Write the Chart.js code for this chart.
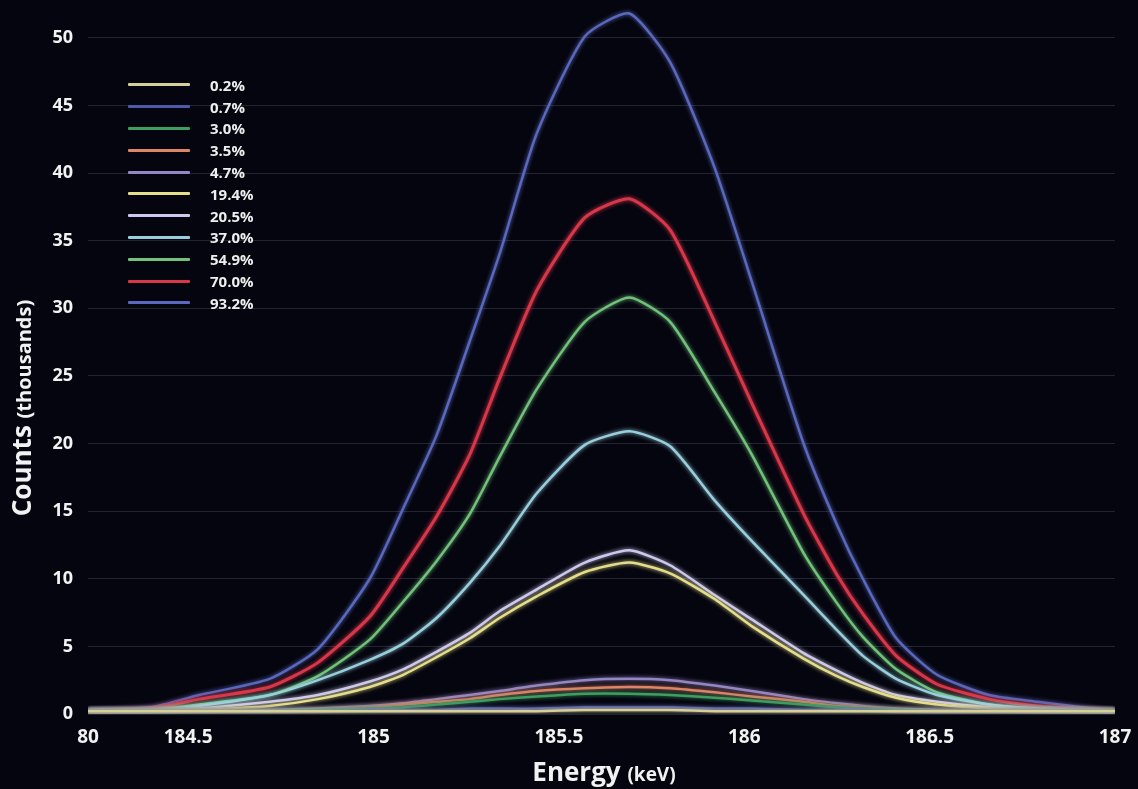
<!DOCTYPE html>
<html>
<head>
<meta charset="utf-8">
<script src="https://cdn.jsdelivr.net/npm/chart.js@4.4.0/dist/chart.umd.min.js"></script>
<style>
    html, body { margin: 0; padding: 0; background: #05050f; }
    #wrap { position: relative; width: 1138px; height: 789px; }
    #legend { position: absolute; left: 128px; top: 74px; font: 700 15px 'Open Sans', sans-serif; color: #eeeeee; }
    #legend .row { display: flex; align-items: center; height: 21.8px; }
    #legend .swatch { width: 62px; height: 3px; margin-right: 20px; border-radius: 1px; }
</style>
</head>
<body>
<div id="wrap">
    <canvas id="spectrum"></canvas>
    <div id="legend"></div>
</div>
<script>
// energy grid (keV), counts in thousands
const energy = [184.23, 184.40, 184.53, 184.72, 184.85, 184.99, 185.08, 185.17, 185.26, 185.34, 185.44, 185.57,
                185.69, 185.80, 185.92, 186.02, 186.16, 186.25, 186.32, 186.41, 186.52, 186.66, 186.79, 187.00];

const enr02 = [0.2, 0.2, 0.2, 0.2, 0.2, 0.2, 0.2, 0.2, 0.2, 0.2, 0.2, 0.3, 0.3, 0.3, 0.2, 0.2, 0.2, 0.2, 0.2, 0.2, 0.2, 0.2, 0.2, 0.2];
const enr07 = [0.2, 0.2, 0.2, 0.2, 0.2, 0.3, 0.3, 0.3, 0.4, 0.4, 0.4, 0.5, 0.5, 0.5, 0.4, 0.4, 0.3, 0.3, 0.3, 0.2, 0.2, 0.2, 0.2, 0.2];
const enr30 = [0.2, 0.2, 0.2, 0.2, 0.3, 0.4, 0.5, 0.7, 0.9, 1.1, 1.3, 1.5, 1.5, 1.4, 1.2, 1.0, 0.7, 0.5, 0.4, 0.3, 0.2, 0.2, 0.2, 0.2];
const enr35 = [0.2, 0.2, 0.2, 0.2, 0.3, 0.5, 0.7, 0.9, 1.1, 1.4, 1.7, 1.9, 2.0, 1.9, 1.6, 1.3, 0.9, 0.6, 0.5, 0.3, 0.2, 0.2, 0.2, 0.2];
const enr47 = [0.2, 0.2, 0.2, 0.3, 0.4, 0.6, 0.8, 1.1, 1.4, 1.7, 2.1, 2.5, 2.6, 2.5, 2.1, 1.7, 1.1, 0.8, 0.6, 0.4, 0.3, 0.2, 0.2, 0.2];
const enr194 = [0.2, 0.2, 0.3, 0.6, 1.1, 2.0, 2.9, 4.2, 5.6, 7.1, 8.7, 10.5, 11.2, 10.4, 8.5, 6.5, 4.1, 2.8, 2.0, 1.2, 0.7, 0.4, 0.2, 0.2];
const enr205 = [0.2, 0.2, 0.4, 0.9, 1.4, 2.4, 3.3, 4.6, 6.0, 7.6, 9.2, 11.2, 12.1, 11.0, 8.8, 7.0, 4.5, 3.2, 2.3, 1.4, 0.9, 0.5, 0.3, 0.2];
const enr370 = [0.2, 0.3, 0.6, 1.4, 2.5, 4.0, 5.2, 7.1, 9.7, 12.4, 16.3, 19.9, 20.9, 19.8, 15.8, 12.8, 8.8, 6.2, 4.3, 2.6, 1.4, 0.7, 0.4, 0.2];
const enr549 = [0.2, 0.3, 0.7, 1.4, 2.8, 5.5, 8.3, 11.3, 14.8, 19.0, 24.0, 29.0, 30.8, 29.0, 23.8, 19.2, 11.9, 8.2, 5.7, 3.3, 1.6, 0.7, 0.4, 0.2];
const enr700 = [0.2, 0.4, 1.1, 2.0, 3.8, 7.2, 10.8, 14.6, 19.2, 24.8, 31.3, 36.7, 38.1, 35.8, 29.0, 23.0, 14.8, 10.3, 7.4, 4.3, 2.2, 1.1, 0.6, 0.2];
const enr932 = [0.3, 0.5, 1.4, 2.6, 4.8, 10.0, 15.2, 20.6, 27.6, 34.0, 42.9, 50.1, 51.8, 48.2, 40.4, 32.0, 20.0, 14.0, 10.0, 5.6, 2.9, 1.4, 0.9, 0.2];

const seriesLabels = ['0.2%', '0.7%', '3.0%', '3.5%', '4.7%', '19.4%', '20.5%', '37.0%', '54.9%', '70.0%', '93.2%'];
const seriesData = [enr02, enr07, enr30, enr35, enr47, enr194, enr205, enr370, enr549, enr700, enr932];
const seriesColors = ['#d6cf98', '#4e59aa', '#3f9d62', '#de8468', '#9486c4', '#e4de8a', '#cdc8ee',
                      '#98cfdc', '#72c27c', '#d8374a', '#5a68bd'];

const xTicks = [184.23, 184.5, 185, 185.5, 186, 186.5, 187];
const yTicks = [0, 5, 10, 15, 20, 25, 30, 35, 40, 45, 50];

const FONT = "'Open Sans', sans-serif";

const datasets = seriesData.map((vals, i) => ({
    label: seriesLabels[i],
    data: vals.map((v, j) => ({ x: energy[j], y: v })),
    borderColor: seriesColors[i],
    borderWidth: i === 9 ? 3 : 2.5,
    pointRadius: 0,
    tension: 0.2,
    fill: false
}));

// axis titles with mixed sizes, like the original slide
const axisTitles = {
    id: 'axisTitles',
    afterDraw(chart) {
        const ctx = chart.ctx;
        ctx.save();
        ctx.fillStyle = '#f2f2f2';
        ctx.textBaseline = 'alphabetic';

        // x title
        ctx.font = '700 26px ' + FONT;
        const w1 = ctx.measureText('Energy ').width;
        ctx.font = '700 19px ' + FONT;
        const w2 = ctx.measureText('(keV)').width;
        let x0 = 604 - (w1 + w2) / 2;
        ctx.font = '700 26px ' + FONT;
        ctx.fillText('Energy ', x0, 781);
        ctx.font = '700 19px ' + FONT;
        ctx.fillText('(keV)', x0 + w1, 781);

        // y title
        ctx.translate(31, 408);
        ctx.rotate(-Math.PI / 2);
        ctx.font = '700 26px ' + FONT;
        const w3 = ctx.measureText('Counts ').width;
        ctx.font = '700 20px ' + FONT;
        const w4 = ctx.measureText('(thousands)').width;
        x0 = -(w3 + w4) / 2;
        ctx.font = '700 26px ' + FONT;
        ctx.fillText('Counts ', x0, 0);
        ctx.font = '700 20px ' + FONT;
        ctx.fillText('(thousands)', x0 + w3, 0);
        ctx.restore();
    }
};

// soft glow on the curves
const glow = {
    id: 'glow',
    beforeDatasetDraw(chart, args) {
        const ctx = chart.ctx;
        ctx.save();
        ctx.shadowColor = chart.data.datasets[args.index].borderColor;
        ctx.shadowBlur = 4;
    },
    afterDatasetDraw(chart) {
        chart.ctx.restore();
    }
};

new Chart(document.getElementById('spectrum'), {
    type: 'line',
    data: { datasets: datasets },
    options: {
        responsive: true,
        maintainAspectRatio: false,
        animation: false,
        layout: { padding: { top: 4, right: 23, left: 0, bottom: 0 } },
        plugins: {
            legend: { display: false },
            tooltip: { enabled: false }
        },
        scales: {
            x: {
                type: 'linear',
                min: 184.23,
                max: 187,
                afterBuildTicks: scale => { scale.ticks = xTicks.map(v => ({ value: v })); },
                afterFit: scale => {
                    scale.height = 75;
                    scale.paddingLeft = 0;
                    scale.paddingRight = 0;
                },
                grid: { display: false },
                border: { display: false },
                ticks: {
                    color: '#f2f2f2',
                    padding: 4,
                    maxRotation: 0,
                    autoSkip: false,
                    font: { family: FONT, size: 19, weight: '700' },
                    callback: v => (v < 184.3 ? '80' : String(v))
                }
            },
            y: {
                min: 0,
                max: 52.5,
                afterBuildTicks: scale => { scale.ticks = yTicks.map(v => ({ value: v })); },
                afterFit: scale => {
                    scale.width = 88;
                    scale.paddingTop = 0;
                    scale.paddingBottom = 0;
                },
                grid: { color: 'rgba(200, 200, 225, 0.16)', lineWidth: 1, drawTicks: false },
                border: { display: false },
                ticks: {
                    color: '#f2f2f2',
                    padding: 15,
                    font: { family: FONT, size: 18, weight: '700' }
                }
            }
        }
    },
    plugins: [axisTitles, glow]
});

// legend drawn as html on top of the plot
const legendBox = document.getElementById('legend');
seriesLabels.forEach((lab, i) => {
    const row = document.createElement('div');
    row.className = 'row';
    const sw = document.createElement('span');
    sw.className = 'swatch';
    sw.style.background = seriesColors[i];
    const txt = document.createElement('span');
    txt.textContent = lab;
    row.appendChild(sw);
    row.appendChild(txt);
    legendBox.appendChild(row);
});
</script>
</body>
</html>
